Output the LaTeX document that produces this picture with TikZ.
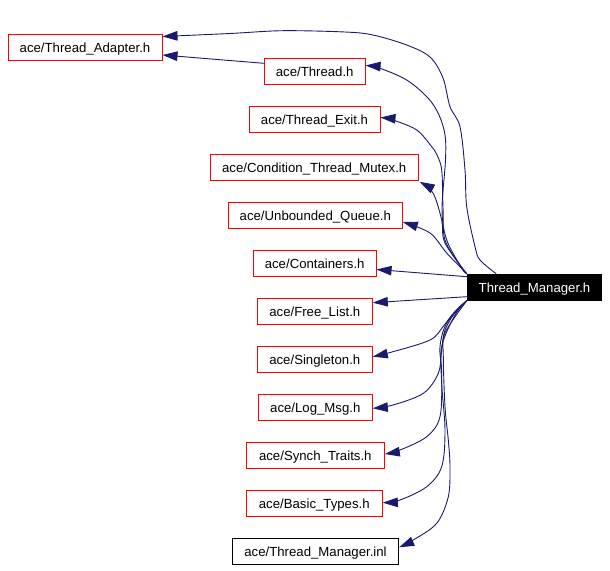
\documentclass[tikz,border=0pt]{standalone}
\usepackage{fontspec}
\setmainfont{Liberation Sans}
\usetikzlibrary{arrows.meta,calc}
\definecolor{edgeblue}{RGB}{25,25,112}
\definecolor{boxred}{RGB}{255,0,0}
\begin{document}
\begin{tikzpicture}[x=1pt,y=-1pt,
  box/.style={draw=boxred, line width=1pt, minimum height=26pt, inner sep=0pt,
    text height=10pt, text depth=0pt,
    font=\fontsize{13.2}{15}\selectfont, text=black},
  plainbox/.style={box, draw=black},
  mainbox/.style={box, draw=black, fill=black, text=white},
  edge/.style={draw=edgeblue, line width=0.9pt,
    -{Triangle[length=15pt,width=9.5pt]}},
  sm/.style={smooth, tension=0.55}
]
\useasboundingbox (0,0) rectangle (610,570);

\node[box, minimum width=154pt]   (adapter) at (85,47.3)    {ace/Thread\_Adapter.h};
\node[box, minimum width=100.7pt] (thread)  at (314.7,71.3) {ace/Thread.h};
\node[box, minimum width=131pt]   (exit)    at (314.5,119.5){ace/Thread\_Exit.h};
\node[box, minimum width=208pt]   (cond)    at (314.2,167.3){ace/Condition\_Thread\_Mutex.h};
\node[box, minimum width=174pt]   (unb)     at (315.3,215.3){ace/Unbounded\_Queue.h};
\node[box, minimum width=122.7pt] (cont)    at (314.7,263.5){ace/Containers.h};
\node[mainbox, minimum width=134.4pt] (tm)  at (534.5,287.2){Thread\_Manager.h};
\node[box, minimum width=115pt]   (free)    at (314.8,311.3){ace/Free\_List.h};
\node[box, minimum width=115pt]   (single)  at (314.8,359.3){ace/Singleton.h};
\node[box, minimum width=114pt]   (log)     at (315.3,407.3){ace/Log\_Msg.h};
\node[box, minimum width=138pt]   (synch)   at (315.3,455.3){ace/Synch\_Traits.h};
\node[box, minimum width=136pt]   (basic)   at (314.3,503.3){ace/Basic\_Types.h};
\node[plainbox, minimum width=166.4pt] (inl) at (315.5,551.3){ace/Thread\_Manager.inl};

% edges from Thread_Manager.h
\draw[edge] plot[sm] coordinates {($(tm.north west)+(29.4,0)$) (480,260) (475,246.7) (466.7,206.7)
  (465,170) (460,126.7) (450,106.7) (443,78) (430,57) (406.7,45) (373,35) (345,32) (283,30.7)
  (230,33.5) (adapter.east |- 0,36.5)};
\draw[edge] plot[sm] coordinates {(tm.north west) (461.7,268) (446.7,240) (442,210) (445.5,160)
  (445,135) (439,115) (428,98) (406.7,80) (380,68.3) (thread.east |- 0,65.5)};
\draw[edge] plot[sm] coordinates {(tm.north west) (461.7,268) (445,240) (443,207) (441.7,170)
  (437,155) (431.7,146.7) (416.7,130) (393,120) (exit.east |- 0,117.5)};
\draw[edge] plot[sm] coordinates {(tm.north west) (445,243) (441.7,220) (433,193)
  ($(cond.south east)+(1,1)$)};
\draw[edge] plot[sm] coordinates {(tm.north west) (446.7,253) (430,233) (unb.east |- 0,222)};
\draw[edge] ($(tm.north west)+(0,3)$) -- (cont.east |- 0,269.5);
\draw[edge] ($(tm.south west)+(0,-4)$) -- (free.east |- 0,302.7);
\draw[edge] plot[sm] coordinates {(tm.south west) (453.3,313.3) (443,326.7) (430,340) (393,351.7)
  (single.east |- 0,356.7)};
\draw[edge] plot[sm] coordinates {(tm.south west) (456.7,310) (445,330) (441.7,350) (438.3,373.3)
  (423.3,393.3) (393,405) (log.east |- 0,408.3)};
\draw[edge] plot[sm] coordinates {(tm.south west) (446.7,323.3) (440,346.7) (441.7,373.3)
  (440,416.7) (426.7,436.7) (400,450) (synch.east |- 0,454)};
\draw[edge] plot[sm] coordinates {(tm.south west) (455,315) (441.7,346.7) (441.7,383.3) (445,430)
  (441.7,466.7) (426.7,486.7) (400,500) (basic.east |- 0,502.7)};
\draw[edge] plot[sm] coordinates {(tm.south west) (445,333) (443.3,356.7) (445,406.7) (448.3,440)
  (450,466.7) (448.3,496.7) (436.7,523.3) (413.3,540) (inl.east |- 0,547.3)};

% Thread.h -> Thread_Adapter.h
\draw[edge] (thread.west |- 0,63.3) -- (adapter.east |- 0,55);
\end{tikzpicture}
\end{document}
